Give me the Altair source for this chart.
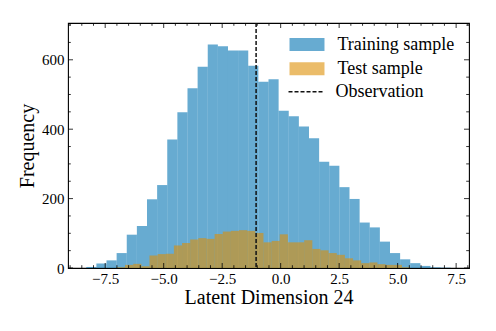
import altair as alt
import numpy as np
import pandas as pd

# ---- data ----
train_counts = [3, 13, 22, 43, 96, 121, 198, 239, 370, 449, 518, 580,
                644, 639, 627, 627, 583, 537, 544, 453, 437, 408, 374, 306,
                295, 233, 199, 131, 117, 76, 43, 25, 14, 6, 2, 1]
train_range = [-8.31, 7.27]
test_counts = [2, 9, 12, 5, 36, 40, 41, 65, 72, 82, 86, 84,
               98, 105, 107, 109, 107, 101, 74, 78, 97, 74, 74, 80,
               55, 51, 43, 38, 28, 22, 14, 16, 11, 9, 9, 2]
test_range = [-7.0, 5.53]
observation = [-1.05]

x_major = [-7.5, -5.0, -2.5, 0.0, 2.5, 5.0, 7.5]
x_minor = [v for v in np.arange(-9.0, 8.01, 0.5) if v not in x_major]
y_major = [0, 200, 400, 600]
y_minor = [v for v in range(50, 701, 50) if v not in y_major]

x_domain = [-9.09, 8.05]
y_domain = [0, 706]

W, H = 401, 245
FONT = "Liberation Serif"


def hist_frame(counts, rng, name):
    edges = np.linspace(rng[0], rng[1], len(counts) + 1)
    return pd.DataFrame({"start": edges[:-1], "end": edges[1:],
                         "count": counts, "base": 0, "sample": name})


hist = pd.concat([hist_frame(train_counts, train_range, "Training sample"),
                  hist_frame(test_counts, test_range, "Test sample")],
                 ignore_index=True)

xscale = alt.Scale(domain=x_domain, nice=False, zero=False)
yscale = alt.Scale(domain=y_domain, nice=False, zero=False)
xaxis = alt.Axis(title="Latent Dimension 24", values=x_major, grid=False,
                 ticks=False, domain=False,
                 labelExpr="replace(format(datum.value, '.1f'), '-', '\u2212')",
                 labelFontSize=15, labelPadding=3, labelColor="black",
                 titleFontSize=20, titleFontWeight="normal", titleColor="black",
                 titlePadding=0, minExtent=19, maxExtent=19)
yaxis = alt.Axis(title="Frequency", values=y_major, grid=False, ticks=False,
                 domain=False, format="d", labelFontSize=15, labelPadding=4,
                 labelColor="black", titleFontSize=20, titleFontWeight="normal",
                 titleColor="black", titlePadding=4, minExtent=27, maxExtent=27)

rect_path = "M-2.69,-1H2.69V1H-2.69Z"
line_path = "M-2.69,0L2.69,0"

bars = alt.Chart(hist).mark_rect(fillOpacity=0.6, strokeWidth=0).encode(
    x=alt.X("start:Q", scale=xscale, axis=xaxis),
    x2="end:Q",
    y=alt.Y("count:Q", scale=yscale, axis=yaxis),
    y2="base:Q",
    color=alt.Color(
        "sample:N",
        scale=alt.Scale(domain=["Training sample", "Test sample"],
                        range=["#0173B2", "#DE8F05"]),
        legend=alt.Legend(orient="none", legendX=230, legendY=12.5,
                          title=None, symbolType=rect_path,
                          symbolSize=169, symbolOpacity=0.6,
                          symbolStrokeWidth=0, labelFont=FONT,
                          labelFontSize=18, labelColor="black",
                          labelOffset=21.5, rowPadding=6.3, padding=0)),
)

obs = alt.Chart(pd.DataFrame({"obs": observation, "label": ["Observation"]})).mark_rule(
    color="#111111", strokeWidth=1.5).encode(
    x=alt.X("obs:Q", scale=xscale, axis=xaxis),
    strokeDash=alt.StrokeDash("label:N",
                              scale=alt.Scale(domain=["Observation"], range=[[4, 2]]),
                              legend=alt.Legend(orient="none", legendX=229, legendY=59.7,
                                                title=None, symbolType=line_path,
                                                symbolSize=169, symbolStrokeWidth=1.5,
                                                symbolStrokeColor="#111111",
                                                symbolFillColor="transparent",
                                                labelFont=FONT, labelFontSize=18,
                                                labelColor="black", labelOffset=20.5,
                                                padding=0)),
)


def xticks(values, length):
    df = pd.DataFrame({"v": values})
    enc = alt.X("v:Q", scale=xscale, axis=xaxis)
    bottom = alt.Chart(df).mark_rule(color="black", strokeWidth=0.8).encode(
        x=enc, y=alt.value(H), y2=alt.value(H - length))
    top = alt.Chart(df).mark_rule(color="black", strokeWidth=0.8).encode(
        x=enc, y=alt.value(0), y2=alt.value(length))
    return [bottom, top]


def yticks(values, length):
    df = pd.DataFrame({"v": values})
    enc = alt.Y("v:Q", scale=yscale, axis=yaxis)
    left = alt.Chart(df).mark_rule(color="black", strokeWidth=0.8).encode(
        y=enc, x=alt.value(0), x2=alt.value(length))
    right = alt.Chart(df).mark_rule(color="black", strokeWidth=0.8).encode(
        y=enc, x=alt.value(W), x2=alt.value(W - length))
    return [left, right]


layers = [bars, obs] + xticks(x_major, 5) + \
    xticks(x_minor, 2.8) + yticks(y_major, 5) + yticks(y_minor, 2.8)

chart = alt.layer(*layers).properties(
    width=W, height=H,
    padding={"left": 9, "top": 14, "right": 5, "bottom": 5},
).configure(font=FONT).configure_view(
    stroke="black", strokeWidth=1.1
).configure_axis(labelFont=FONT, titleFont=FONT)

chart.save("out.html", embed_options={"renderer": "svg", "actions": False})
